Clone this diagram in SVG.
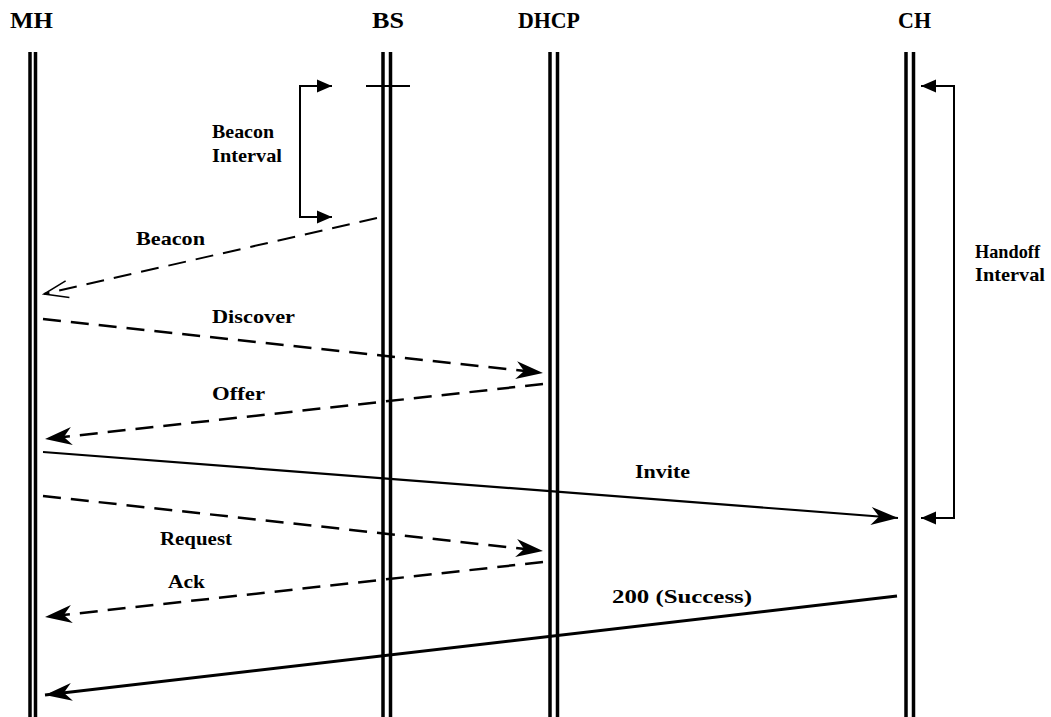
<svg xmlns="http://www.w3.org/2000/svg" width="1051" height="717" viewBox="0 0 1051 717">
  <style>
    .hdr { font-family: "Liberation Serif", "Times New Roman", serif; font-weight: bold; font-size: 23px; fill: #000; }
    .lbl { font-family: "Liberation Serif", "Times New Roman", serif; font-weight: bold; font-size: 19px; fill: #000; }
    .life { stroke: #000; stroke-width: 3.5; fill: none; }
    .bracket { stroke: #000; stroke-width: 2; fill: none; }
    .dash { stroke: #000; stroke-width: 2.5; fill: none; stroke-dasharray: 18 10; }
    .solid { stroke: #000; stroke-width: 2.2; fill: none; }
  </style>
  <defs>
    <marker id="barb" markerUnits="userSpaceOnUse" markerWidth="40" markerHeight="30" viewBox="-30 -15 40 30" refX="0" refY="0" orient="auto">
      <path d="M0,0 L-27,-9 L-19,0 L-27,9 Z" fill="#000" stroke="none"/>
    </marker>
    <marker id="open" markerUnits="userSpaceOnUse" markerWidth="40" markerHeight="30" viewBox="-30 -15 40 30" refX="0" refY="0" orient="auto">
      <path d="M-24,-9 L0,0 L-24,8" fill="none" stroke="#000" stroke-width="1.5"/>
    </marker>
    <marker id="tri" markerUnits="userSpaceOnUse" markerWidth="20" markerHeight="20" viewBox="-16 -8 20 16" refX="0" refY="0" orient="auto">
      <path d="M0,0 L-15,-6.5 L-15,6.5 Z" fill="#000"/>
    </marker>
  </defs>

  <!-- lifelines -->
  <g id="MH">
    <text class="hdr" x="10" y="28" textLength="43" lengthAdjust="spacingAndGlyphs">MH</text>
    <line class="life" x1="30" y1="52" x2="30" y2="717"/>
    <line class="life" x1="35.5" y1="52" x2="35.5" y2="717"/>
  </g>
  <g id="BS">
    <text class="hdr" x="372" y="28" textLength="32" lengthAdjust="spacingAndGlyphs">BS</text>
    <line class="life" x1="383" y1="52" x2="383" y2="717"/>
    <line class="life" x1="390.5" y1="52" x2="390.5" y2="717"/>
    <line class="bracket" x1="366" y1="86" x2="410" y2="86"/>
  </g>
  <g id="DHCP">
    <text class="hdr" x="518" y="28" textLength="62" lengthAdjust="spacingAndGlyphs">DHCP</text>
    <line class="life" x1="550" y1="52" x2="550" y2="717"/>
    <line class="life" x1="557.5" y1="52" x2="557.5" y2="717"/>
  </g>
  <g id="CH">
    <text class="hdr" x="898" y="28" textLength="33" lengthAdjust="spacingAndGlyphs">CH</text>
    <line class="life" x1="906" y1="52" x2="906" y2="717"/>
    <line class="life" x1="913.5" y1="52" x2="913.5" y2="717"/>
  </g>

  <!-- interval brackets -->
  <g id="beacon-interval">
    <path class="bracket" d="M318,86 H300 V217 H318" marker-start="none"/>
    <line class="bracket" x1="300" y1="86" x2="332" y2="86" marker-end="url(#tri)"/>
    <line class="bracket" x1="300" y1="217" x2="332" y2="217" marker-end="url(#tri)"/>
    <text class="lbl" x="212" y="138" textLength="62" lengthAdjust="spacingAndGlyphs">Beacon</text>
    <text class="lbl" x="212" y="162" textLength="70" lengthAdjust="spacingAndGlyphs">Interval</text>
  </g>
  <g id="handoff-interval">
    <path class="bracket" d="M936,86 H954 V518 H936"/>
    <line class="bracket" x1="954" y1="86" x2="921" y2="86" marker-end="url(#tri)"/>
    <line class="bracket" x1="954" y1="518" x2="921" y2="518" marker-end="url(#tri)"/>
    <text class="lbl" x="975" y="258" textLength="65" lengthAdjust="spacingAndGlyphs">Handoff</text>
    <text class="lbl" x="975" y="281" textLength="70" lengthAdjust="spacingAndGlyphs">Interval</text>
  </g>

  <!-- messages -->
  <g id="connectors">
    <line class="dash" style="stroke-width:2" x1="377" y1="218" x2="44" y2="294" marker-end="url(#open)"/>
    <line class="dash" x1="43" y1="319" x2="543" y2="373" marker-end="url(#barb)"/>
    <line class="dash" x1="543" y1="384" x2="45" y2="439" marker-end="url(#barb)"/>
    <line class="solid" x1="43" y1="452" x2="898" y2="518" marker-end="url(#barb)"/>
    <line class="dash" x1="43" y1="496" x2="543" y2="551" marker-end="url(#barb)"/>
    <line class="dash" x1="543" y1="562" x2="45" y2="617" marker-end="url(#barb)"/>
    <line class="solid" style="stroke-width:3" x1="897" y1="596" x2="45" y2="695" marker-end="url(#barb)"/>
  </g>

  <!-- message labels -->
  <g id="labels">
    <text class="lbl" x="136" y="245" textLength="69" lengthAdjust="spacingAndGlyphs">Beacon</text>
    <text class="lbl" x="212" y="323" textLength="83" lengthAdjust="spacingAndGlyphs">Discover</text>
    <text class="lbl" x="212" y="400" textLength="53" lengthAdjust="spacingAndGlyphs">Offer</text>
    <text class="lbl" x="635" y="478" textLength="55" lengthAdjust="spacingAndGlyphs">Invite</text>
    <text class="lbl" x="160" y="545" textLength="72" lengthAdjust="spacingAndGlyphs">Request</text>
    <text class="lbl" x="168" y="588" textLength="37" lengthAdjust="spacingAndGlyphs">Ack</text>
    <text class="lbl" x="612" y="603" textLength="140" lengthAdjust="spacingAndGlyphs">200 (Success)</text>
  </g>
</svg>
